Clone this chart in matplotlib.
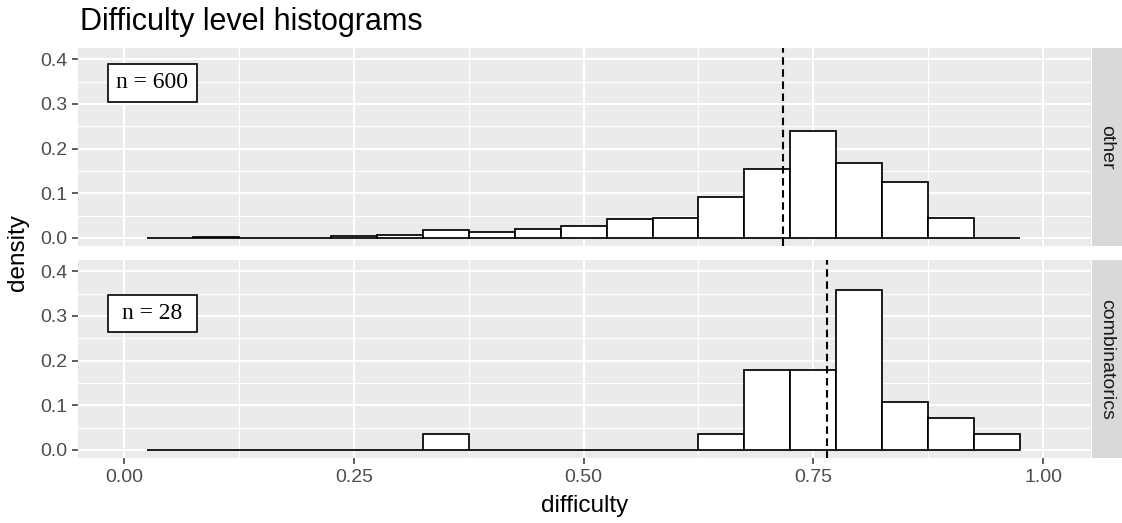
import numpy as np
import matplotlib
matplotlib.use('Agg')
import matplotlib.pyplot as plt
from matplotlib.patches import Rectangle

# ── Data ─────────────────────────────────────────────────────────────────
bin_centers = [0.05, 0.10, 0.15, 0.20, 0.25, 0.30, 0.35, 0.40, 0.45, 0.50,
               0.55, 0.60, 0.65, 0.70, 0.75, 0.80, 0.85, 0.90, 0.95]
other_density = [0.0, 0.0017, 0.0, 0.0, 0.0033, 0.0067, 0.0175, 0.0125, 0.0195, 0.0275,
                 0.0415, 0.045, 0.0915, 0.155, 0.239, 0.167, 0.125, 0.045, 0.0]
combi_density = [0.0, 0.0, 0.0, 0.0, 0.0, 0.0, 0.0357, 0.0, 0.0, 0.0,
                 0.0, 0.0, 0.0357, 0.1786, 0.1786, 0.3571, 0.1071, 0.0714, 0.0357]
facets = ['other', 'combinatorics']
facet_n = [600, 28]
facet_mean = [0.717, 0.765]
bin_width = 0.05

x_ticks = [0.0, 0.25, 0.50, 0.75, 1.00]
x_ticklabels = ['0.00', '0.25', '0.50', '0.75', '1.00']
y_ticks = [0.0, 0.1, 0.2, 0.3, 0.4]
y_ticklabels = ['0.0', '0.1', '0.2', '0.3', '0.4']

# ── Figure layout (pixel based) ──────────────────────────────────────────
W, H = 1122, 523
fig = plt.figure(figsize=(W / 100, H / 100), dpi=100)
plt.rcParams['font.family'] = ['Liberation Sans', 'DejaVu Sans']

panel_left, panel_right = 78, 1091
panel_rows = [(48, 246), (260, 458)]
strip_right = 1122

def fx(px):
    return px / W

def fy(py):
    return 1 - py / H

series = [other_density, combi_density]
box_y = [(0.305, 0.389), (0.265, 0.347)]

for i, (top, bottom) in enumerate(panel_rows):
    ax = fig.add_axes([fx(panel_left), fy(bottom), fx(panel_right - panel_left),
                       (bottom - top) / H])
    ax.set_facecolor('#EBEBEB')
    for s in ax.spines.values():
        s.set_visible(False)
    ax.set_xlim(-0.05, 1.052)
    ax.set_ylim(-0.018, 0.425)

    # grid (minor then major)
    for xv in [0.125, 0.375, 0.625, 0.875]:
        ax.axvline(xv, color='white', lw=0.8, zorder=0)
    for yv in [0.05, 0.15, 0.25, 0.35]:
        ax.axhline(yv, color='white', lw=0.8, zorder=0)
    for xv in x_ticks:
        ax.axvline(xv, color='white', lw=1.5, zorder=0)
    for yv in y_ticks:
        ax.axhline(yv, color='white', lw=1.5, zorder=0)

    ax.bar(bin_centers, series[i], width=bin_width, color='white',
           edgecolor='black', linewidth=1.25, zorder=2)
    ax.axvline(facet_mean[i], color='black', lw=1.5, ls=(0, (3.6, 2.2)), zorder=3)

    # n label box
    y0, y1 = box_y[i]
    ax.add_patch(Rectangle((-0.0174, y0), 0.0968, y1 - y0, facecolor='white',
                           edgecolor='black', lw=1.2, zorder=4))
    ax.text(0.031, (y0 + y1) / 2, f'n = {facet_n[i]}', ha='center', va='center',
            family=['Liberation Serif', 'DejaVu Serif'], fontsize=17, zorder=5)

    ax.set_yticks(y_ticks)
    ax.set_yticklabels(y_ticklabels)
    ax.set_xticks(x_ticks)
    ax.tick_params(axis='both', colors='#333333', labelcolor='#4D4D4D',
                   length=4.3, width=1.1, labelsize=14, pad=3.5)
    if i == 0:
        ax.tick_params(axis='x', bottom=False, labelbottom=False)
    else:
        ax.set_xticklabels(x_ticklabels)

    # facet strip
    sax = fig.add_axes([fx(panel_right + 1), fy(bottom), fx(strip_right - panel_right - 1),
                        (bottom - top) / H])
    sax.set_facecolor('#D9D9D9')
    sax.set_xticks([])
    sax.set_yticks([])
    for s in sax.spines.values():
        s.set_visible(False)
    sax.text(0.5, 0.5, facets[i], rotation=-90, ha='center', va='center',
             fontsize=14, color='#1A1A1A', transform=sax.transAxes)

fig.text(fx(80), fy(30), 'Difficulty level histograms', fontsize=22,
         ha='left', va='baseline', color='black')
fig.text(fx(18), fy((48 + 458) / 2), 'density', rotation=90, fontsize=17.5,
         ha='center', va='center', color='black')
fig.text(fx((panel_left + panel_right) / 2), fy(506), 'difficulty', fontsize=17.5,
         ha='center', va='center', color='black')

fig.savefig('out.png', dpi=100, facecolor='white')
